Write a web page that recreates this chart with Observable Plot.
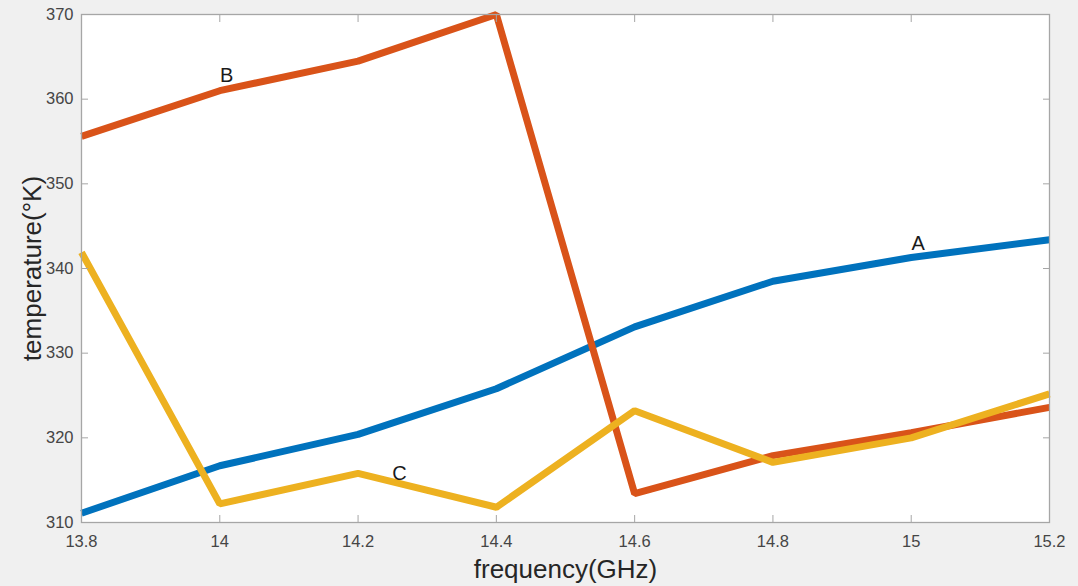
<!DOCTYPE html>
<html>
<head>
<meta charset="utf-8">
<script src="https://cdn.jsdelivr.net/npm/d3@7"></script>
<script src="https://cdn.jsdelivr.net/npm/@observablehq/plot@0.6"></script>
<style>
  html, body { margin: 0; padding: 0; background: #f0f0f0; }
  #chart { width: 1078px; height: 586px; }
</style>
</head>
<body>
<div id="chart"></div>
<script>
// Frequency sweep (GHz) and the three temperature curves (°K)
const freq  = [13.8, 14, 14.2, 14.4, 14.6, 14.8, 15, 15.2];
const tempA = [311.1, 316.7, 320.4, 325.8, 333.1, 338.5, 341.3, 343.4];
const tempB = [355.6, 361.0, 364.5, 370.0, 313.4, 317.9, 320.6, 323.6];
const tempC = [341.9, 312.2, 315.8, 311.8, 323.2, 317.1, 320.0, 325.2];

const seriesNames  = ["A", "B", "C"];
const seriesColors = ["#0072BD", "#D95319", "#EDB120"];

// Curve labels placed next to each line
const labelText = ["B", "A", "C"];
const labelFreq = [14.01, 15.01, 14.26];
const labelTemp = [362.8, 342.9, 315.8];

const xTicks = [13.8, 14, 14.2, 14.4, 14.6, 14.8, 15, 15.2];
const yTicks = [310, 320, 330, 340, 350, 360, 370];

const xTitle = "frequency(GHz)";
const yTitle = "temperature(°K)";

const rows = [];
[tempA, tempB, tempC].forEach((vals, i) => {
  vals.forEach((t, j) => rows.push({series: seriesNames[i], f: freq[j], t}));
});
const labels = labelText.map((s, i) => ({s, f: labelFreq[i], t: labelTemp[i]}));

const font = "'Liberation Sans', Arial, Helvetica, sans-serif";
const axisColor = "#a6a6a6";
const tickTextColor = "#454545";
const titleColor = "#262626";
const tickFont = 16.5;

const chart = Plot.plot({
  width: 1078,
  height: 586,
  marginLeft: 81,
  marginRight: 29,
  marginTop: 14,
  marginBottom: 64,
  style: {background: "transparent", fontFamily: font},
  x: {domain: [13.8, 15.2]},
  y: {domain: [310, 370]},
  color: {domain: seriesNames, range: seriesColors},
  marks: [
    Plot.frame({fill: "white", stroke: null}),
    Plot.line(rows, {x: "f", y: "t", z: "series", stroke: "series", strokeWidth: 7, strokeLinejoin: "miter", strokeLinecap: "butt"}),
    Plot.text(labels, {x: "f", y: "t", text: "s", fontSize: 20, fill: "#1a1a1a"}),
    Plot.frame({stroke: axisColor, strokeWidth: 1.3}),
    // Inward tick marks on all four sides of the box
    Plot.axisX({anchor: "bottom", ticks: xTicks, tickSize: -7, tickFormat: () => "", stroke: axisColor, label: null}),
    Plot.axisX({anchor: "top", ticks: xTicks, tickSize: -7, tickFormat: () => "", stroke: axisColor, label: null}),
    Plot.axisY({anchor: "left", ticks: yTicks, tickSize: -7, tickFormat: () => "", stroke: axisColor, label: null}),
    Plot.axisY({anchor: "right", ticks: yTicks, tickSize: -7, tickFormat: () => "", stroke: axisColor, label: null}),
    // Tick labels
    Plot.text(xTicks, {x: d => d, frameAnchor: "bottom", dy: 19, lineAnchor: "middle", textAnchor: "middle", text: d => String(d), fontSize: tickFont, fill: tickTextColor}),
    Plot.text(yTicks, {y: d => d, frameAnchor: "left", dx: -8, lineAnchor: "middle", textAnchor: "end", text: d => String(d), fontSize: tickFont, fill: tickTextColor}),
    // Axis titles
    Plot.text([xTitle], {frameAnchor: "bottom", dy: 47, lineAnchor: "middle", textAnchor: "middle", text: d => d, fontSize: 26, fill: titleColor}),
    Plot.text([yTitle], {frameAnchor: "left", dx: -49, rotate: -90, lineAnchor: "middle", textAnchor: "middle", text: d => d, fontSize: 26, fill: titleColor})
  ]
});

document.getElementById("chart").appendChild(chart);
</script>
</body>
</html>
